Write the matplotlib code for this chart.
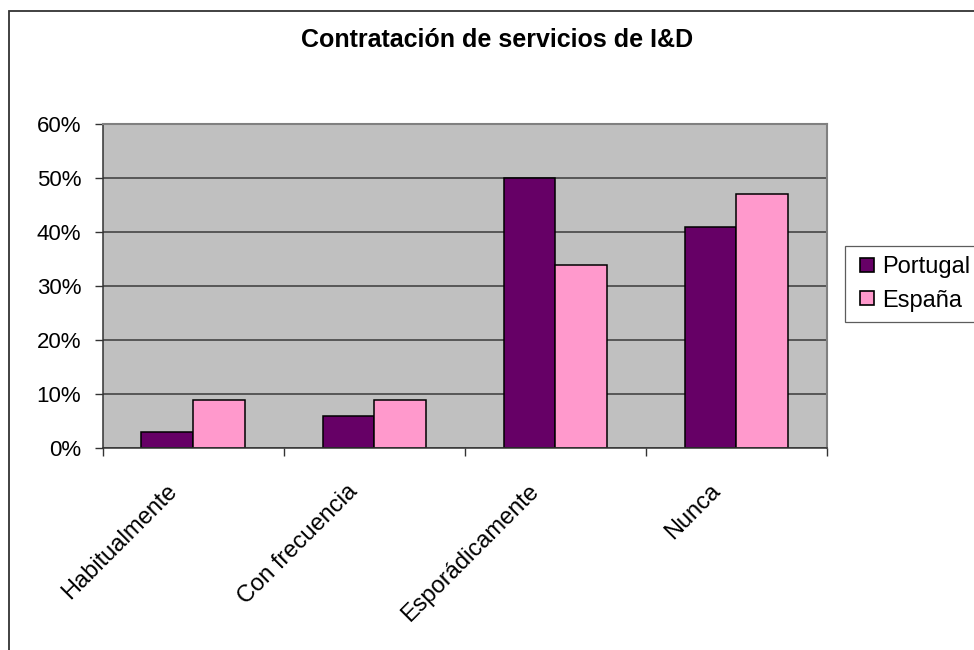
"""
Bar chart: contratación de servicios de I&D, Portugal vs España.
"""

import matplotlib

matplotlib.use("Agg")

import matplotlib.pyplot as plt
import matplotlib.transforms as mtransforms
import numpy as np
from matplotlib.lines import Line2D
from matplotlib.patches import Rectangle


CATEGORIES = ["Habitualmente", "Con frecuencia", "Esporádicamente", "Nunca"]
SERIES_NAMES = ["Portugal", "España"]
PORTUGAL = [0.03, 0.06, 0.50, 0.41]
ESPANA = [0.09, 0.09, 0.34, 0.47]
Y_TICKS = [0.0, 0.1, 0.2, 0.3, 0.4, 0.5, 0.6]
Y_TICK_LABELS = ["0%", "10%", "20%", "30%", "40%", "50%", "60%"]
TITLE = "Contratación de servicios de I&D"

COLORS = ["#660066", "#FF99CC"]
FONT = "Liberation Sans"


def main() -> None:
    plt.rcParams["font.family"] = [FONT, "DejaVu Sans"]

    fig = plt.figure(figsize=(9.74, 6.5), dpi=100)
    ax = fig.add_axes([0.1054, 0.3103, 0.7437, 0.4985])

    # outer chart border (right/bottom fall outside the picture)
    fig.patches.append(
        Rectangle(
            (8.5 / 974, -0.1),
            1.2,
            1.1 - 10.5 / 650,
            transform=fig.transFigure,
            fill=False,
            edgecolor="#333333",
            linewidth=1.3,
        )
    )

    x = np.arange(len(CATEGORIES))
    bar_width = 0.286

    ax.set_facecolor("#C0C0C0")
    ax.set_axisbelow(True)
    ax.yaxis.grid(True, color="#3a3a3a", linewidth=1.1)

    for offset, values, color, name in zip(
        [-bar_width / 2, bar_width / 2], [PORTUGAL, ESPANA], COLORS, SERIES_NAMES
    ):
        ax.bar(
            x + offset,
            values,
            width=bar_width,
            color=color,
            edgecolor="black",
            linewidth=1.1,
            label=name,
        )

    ax.set_xlim(-0.5, len(CATEGORIES) - 0.5)
    ax.set_ylim(0, 0.6)

    ax.set_yticks(Y_TICKS)
    ax.set_yticklabels(Y_TICK_LABELS, fontsize=16)
    ax.tick_params(axis="y", length=5.5, width=1, color="#333333", pad=10)

    ax.set_xticks(x)
    ax.set_xticks(np.arange(-0.5, len(CATEGORIES)), minor=True)
    ax.set_xticklabels(
        CATEGORIES, fontsize=17, rotation=45, ha="right", va="top"
    )
    ax.tick_params(axis="x", which="major", length=0, pad=23)
    ax.tick_params(axis="x", which="minor", length=5.8, width=1, color="#333333")
    shift = mtransforms.ScaledTranslation(-12 / 100, 0, fig.dpi_scale_trans)
    for label in ax.get_xticklabels():
        label.set_transform(label.get_transform() + shift)

    for side in ["left", "bottom"]:
        ax.spines[side].set_color("#333333")
        ax.spines[side].set_linewidth(1.1)
    for side in ["top", "right"]:
        ax.spines[side].set_color("#808080")
        ax.spines[side].set_linewidth(1.5)

    fig.text(
        0.51,
        1 - 40 / 650,
        TITLE,
        ha="center",
        va="center",
        fontsize=18,
        fontweight="bold",
    )

    handles = [
        Line2D(
            [],
            [],
            linestyle="none",
            marker="s",
            markersize=10.5,
            markerfacecolor=color,
            markeredgecolor="black",
            markeredgewidth=1.2,
        )
        for color in COLORS
    ]
    legend = fig.legend(
        handles,
        SERIES_NAMES,
        loc="upper left",
        bbox_to_anchor=(845 / 974, 1 - 246 / 650),
        fontsize=17,
        frameon=True,
        fancybox=False,
        borderpad=0.42,
        handlelength=1.0,
        handletextpad=0.15,
        labelspacing=0.5,
        borderaxespad=0,
    )
    legend.get_frame().set_edgecolor("#333333")
    legend.get_frame().set_linewidth(0.9)

    fig.savefig("out.png", dpi=100)
    plt.close(fig)


if __name__ == "__main__":
    main()
